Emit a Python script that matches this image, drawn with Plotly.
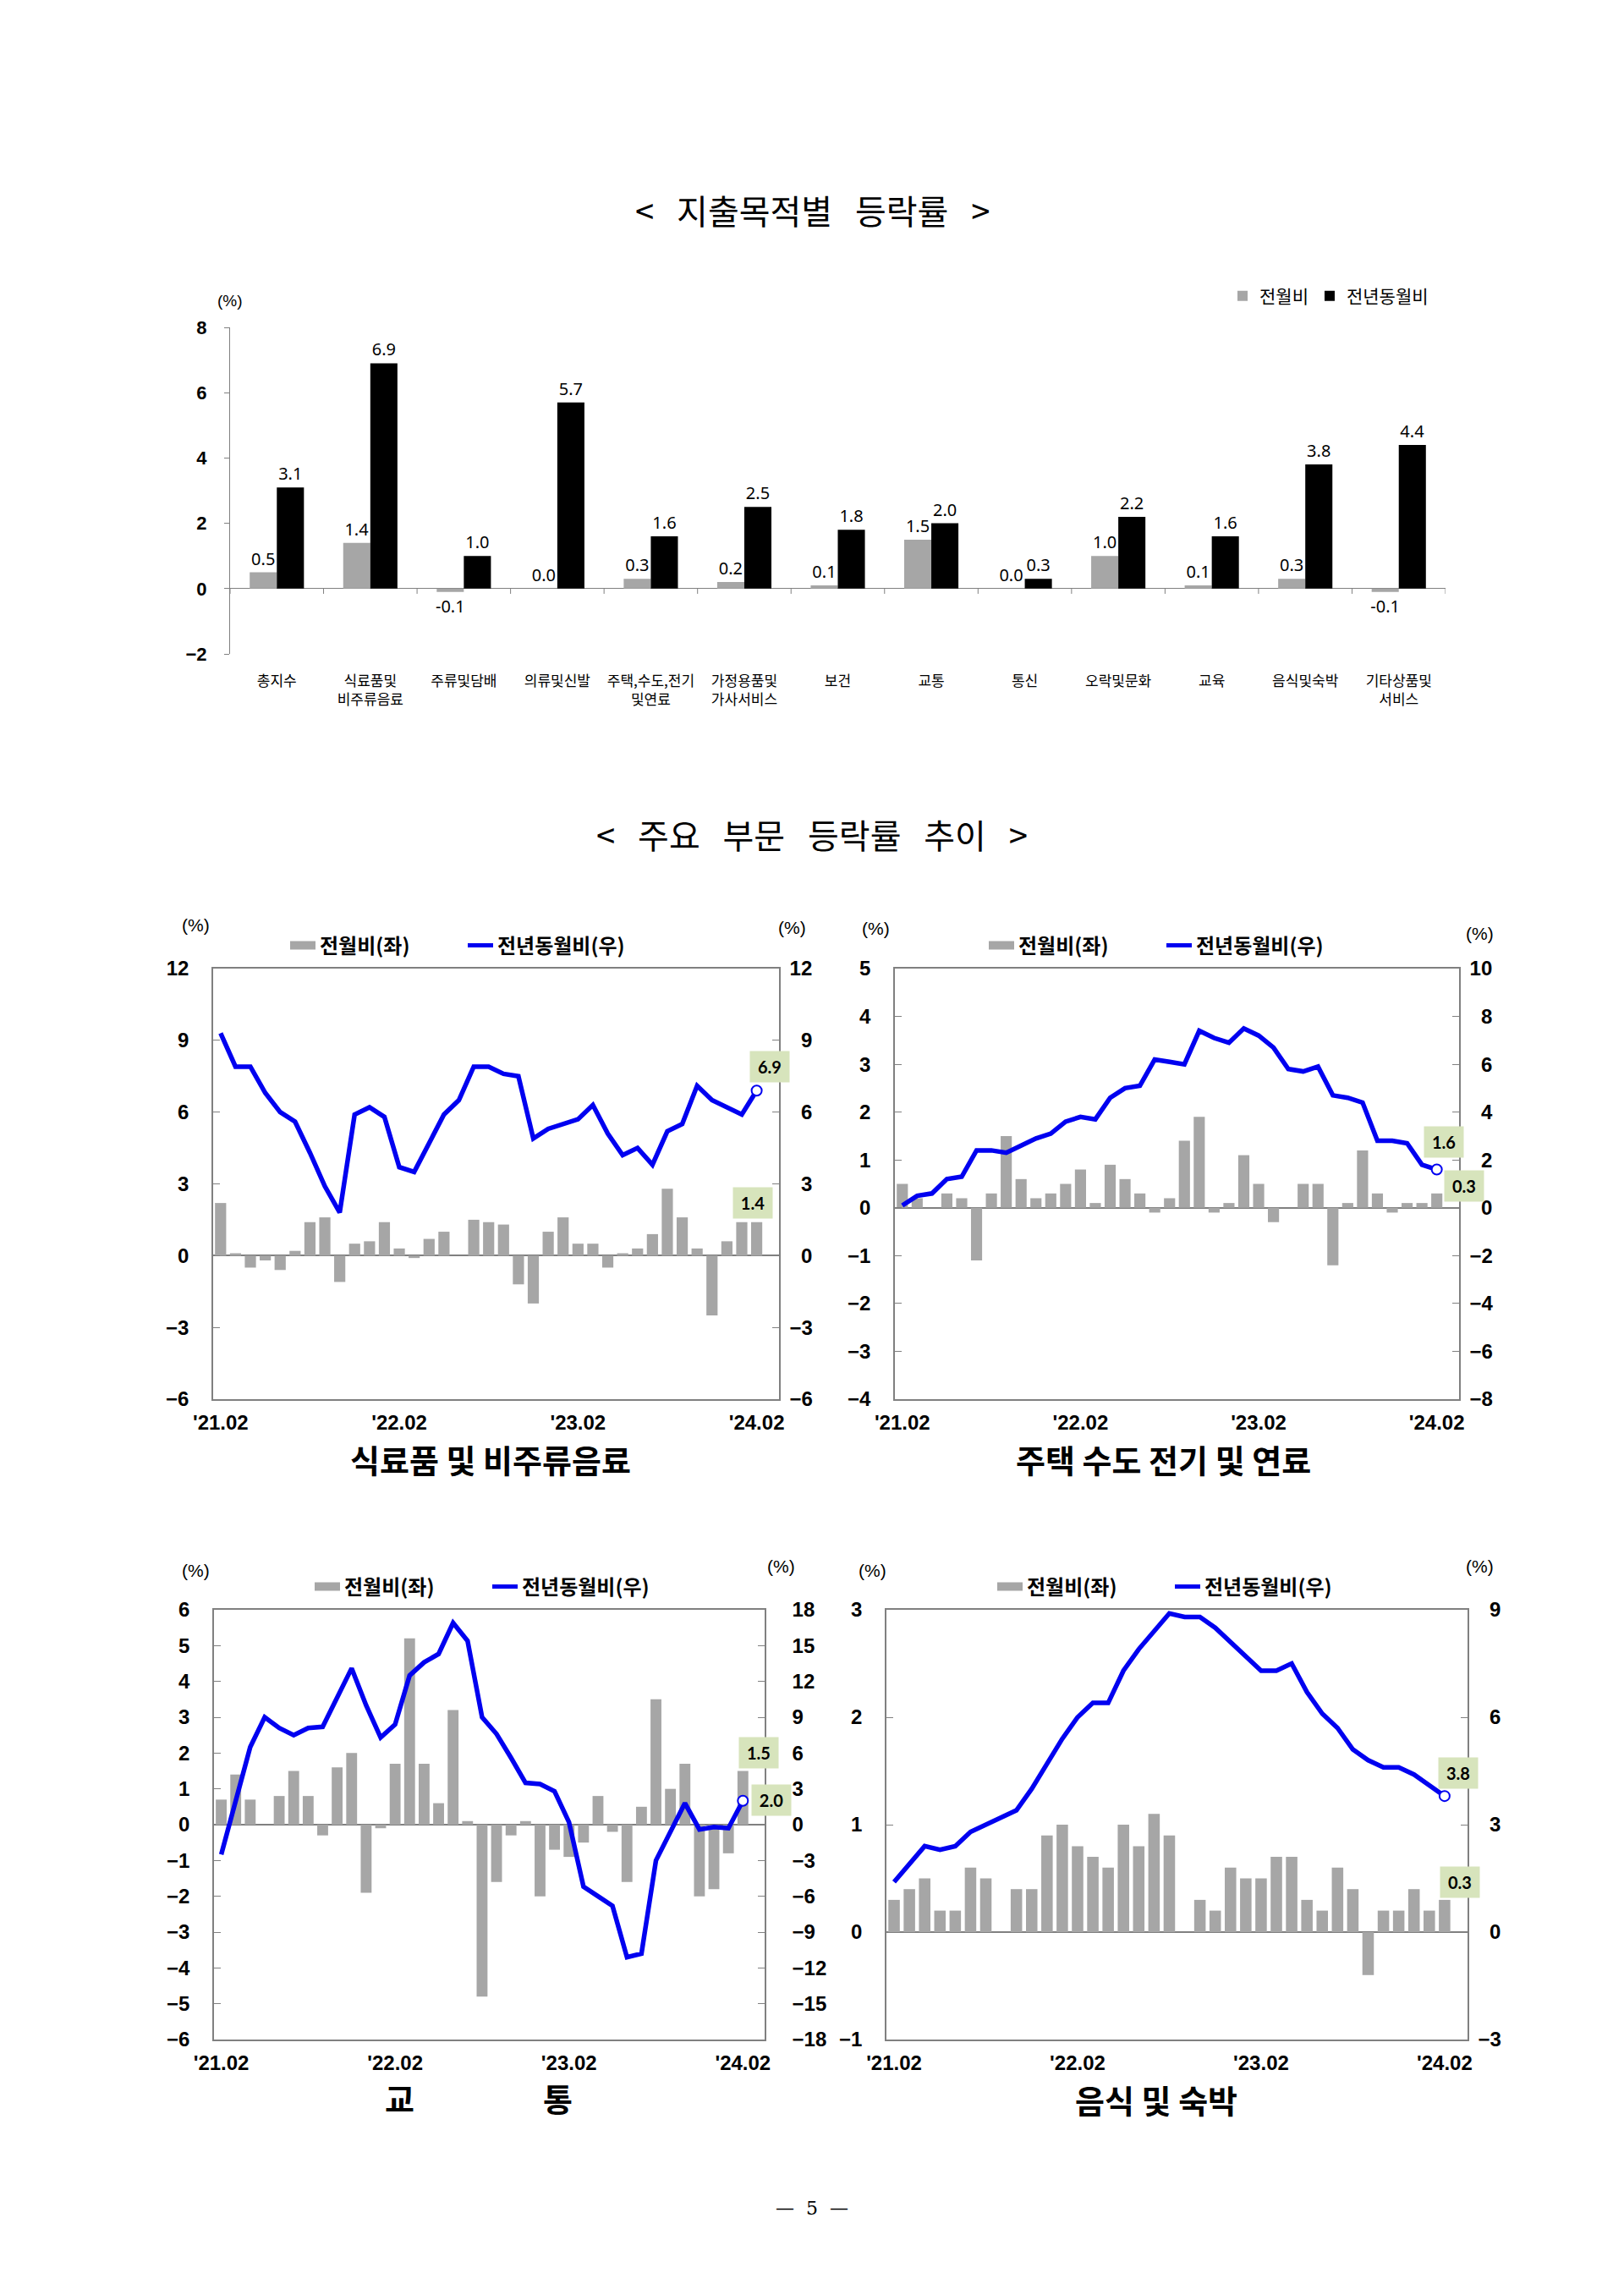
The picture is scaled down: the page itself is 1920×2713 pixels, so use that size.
import plotly.graph_objects as go

# ---------------- data ----------------
categories = ["총지수", "식료품및<br>비주류음료", "주류및담배", "의류및신발", "주택,수도,전기<br>및연료",
              "가정용품및<br>가사서비스", "보건", "교통", "통신", "오락및문화", "교육", "음식및숙박",
              "기타상품및<br>서비스"]
cat_mom = [0.5, 1.4, -0.1, 0.0, 0.3, 0.2, 0.1, 1.5, 0.0, 1.0, 0.1, 0.3, -0.1]
cat_yoy = [3.1, 6.9, 1.0, 5.7, 1.6, 2.5, 1.8, 2.0, 0.3, 2.2, 1.6, 3.8, 4.4]

months = []
for yy in range(21, 25):
    for mm in range(1, 13):
        if (yy == 21 and mm < 2) or (yy == 24 and mm > 2):
            continue
        months.append(f"'{yy}.{mm:02d}")
month_ticks = ["'21.02", "'22.02", "'23.02", "'24.02"]

food_mom = [2.2, 0.1, -0.5, -0.2, -0.6, 0.2, 1.4, 1.6, -1.1, 0.5, 0.6, 1.4, 0.3, -0.1, 0.7, 1.0, 0.0, 1.5, 1.4,
            1.3, -1.2, -2.0, 1.0, 1.6, 0.5, 0.5, -0.5, 0.1, 0.3, 0.9, 2.8, 1.6, 0.3, -2.5, 0.6, 1.4, 1.4]
food_yoy = [9.3, 7.9, 7.9, 6.8, 6.0, 5.6, 4.3, 2.9, 1.8, 5.9, 6.2, 5.8, 3.7, 3.5, 4.7, 5.9, 6.5, 7.9, 7.9,
            7.6, 7.5, 4.9, 5.3, 5.5, 5.7, 6.3, 5.1, 4.2, 4.5, 3.8, 5.2, 5.5, 7.1, 6.5, 6.2, 5.9, 6.9]

house_mom = [0.5, 0.2, 0.0, 0.3, 0.2, -1.1, 0.3, 1.5, 0.6, 0.2, 0.3, 0.5, 0.8, 0.1, 0.9, 0.6, 0.3, -0.1, 0.2,
             1.4, 1.9, -0.1, 0.1, 1.1, 0.5, -0.3, 0.0, 0.5, 0.5, -1.2, 0.1, 1.2, 0.3, -0.1, 0.1, 0.1, 0.3]
house_yoy = [0.1, 0.5, 0.6, 1.2, 1.3, 2.4, 2.4, 2.3, 2.6, 2.9, 3.1, 3.6, 3.8, 3.7, 4.6, 5.0, 5.1, 6.2, 6.1,
             6.0, 7.4, 7.1, 6.9, 7.5, 7.2, 6.7, 5.8, 5.7, 5.9, 4.7, 4.6, 4.4, 2.8, 2.8, 2.7, 1.8, 1.6]

trans_mom = [0.7, 1.4, 0.7, 0.0, 0.8, 1.5, 0.8, -0.3, 1.6, 2.0, -1.9, -0.1, 1.7, 5.2, 1.7, 0.6, 3.2, 0.1, -4.8,
             -1.6, -0.3, 0.1, -2.0, -0.7, -0.9, -0.5, 0.8, -0.2, -1.6, 0.5, 3.5, 1.0, 1.7, -2.0, -1.8, -0.8, 1.5]
trans_yoy = [-2.5, 2.0, 6.5, 9.0, 8.1, 7.5, 8.1, 8.2, 10.7, 13.1, 10.0, 7.3, 8.4, 12.5, 13.6, 14.3, 16.9, 15.4,
             9.0, 7.6, 5.6, 3.5, 3.4, 2.8, 0.2, -5.2, -6.0, -6.8, -11.1, -10.8, -3.0, -0.6, 1.8, -0.4, -0.2,
             -0.3, 2.0]

rest_mom = [0.3, 0.4, 0.5, 0.2, 0.2, 0.6, 0.5, 0.0, 0.4, 0.4, 0.9, 1.0, 0.8, 0.7, 0.6, 1.0, 0.8, 1.1, 0.9,
            0.0, 0.3, 0.2, 0.6, 0.5, 0.5, 0.7, 0.7, 0.3, 0.2, 0.6, 0.4, -0.4, 0.2, 0.2, 0.4, 0.2, 0.3]
rest_yoy = [1.4, 1.9, 2.4, 2.3, 2.4, 2.8, 3.0, 3.2, 3.4, 4.0, 4.7, 5.4, 6.0, 6.4, 6.4, 7.3, 7.9, 8.4, 8.9,
            8.8, 8.8, 8.5, 8.1, 7.7, 7.3, 7.3, 7.5, 6.7, 6.1, 5.7, 5.1, 4.8, 4.6, 4.6, 4.4, 4.1, 3.8]

panel_titles = ["식료품 및 비주류음료", "주택 수도 전기 및 연료", None, "음식 및 숙박"]

# ---------------- style ----------------
W, H = 1920, 2713
GRAY = "#A6A6A6"
BLUE = "#0000F0"
AXC = "#808080"
GREEN = "#D7E4BC"
KR = "Noto Sans CJK KR"
NUM = "Liberation Sans, Arial, sans-serif"
SP = "\u00a0\u00a0\u00a0"


def px(x):
    return x / W


def py(y):
    return 1 - y / H


def right_labels(lo, hi, step, pad):
    vals = list(range(lo, hi + 1, step))
    txt = [("\u2212" if v < 0 else "") + str(abs(v)) for v in vals]
    if pad:
        n = max(len(t) for t in txt)
        txt = ["\u2007" * (n - len(t)) + t for t in txt]
    return vals, txt


fig = go.Figure()

# ---------------- top chart ----------------
fig.add_trace(go.Bar(x=categories, y=cat_mom, name="전월비", marker_color=GRAY, width=0.29, offset=-0.29,
                     text=[f"{v:.1f}" for v in cat_mom], textposition="outside", constraintext="none",
                     textfont=dict(family="Noto Sans", size=20, color="black"), cliponaxis=False,
                     xaxis="x", yaxis="y", legend="legend"))
fig.add_trace(go.Bar(x=categories, y=cat_yoy, name="전년동월비", marker_color="black", width=0.29, offset=0,
                     text=[f"{v:.1f}" for v in cat_yoy], textposition="outside", constraintext="none",
                     textfont=dict(family="Noto Sans", size=20, color="black"), cliponaxis=False,
                     xaxis="x", yaxis="y", legend="legend"))

layout = dict(
    template="none",
    width=W, height=H, margin=dict(l=0, r=0, t=0, b=0, autoexpand=False),
    paper_bgcolor="white", plot_bgcolor="white",
    barmode="overlay", showlegend=True,
    font=dict(family=KR, color="black"),
    xaxis=dict(domain=[px(272), px(1709)], anchor="y", type="category", showline=False, ticks="",
               showgrid=False, automargin=False, tickfont=dict(family=KR, size=17, color="black"),
               ticklabelstandoff=20, range=[-0.5, len(categories) - 0.5]),
    yaxis=dict(domain=[py(773), py(387)], anchor="x", range=[-2, 8], dtick=2, showgrid=False,
               automargin=False,
               showline=True, linecolor=AXC, linewidth=1, ticks="outside", ticklen=6, tickcolor=AXC,
               zeroline=True, zerolinecolor=AXC, zerolinewidth=1.2,
               tickfont=dict(family=NUM, size=22, color="black", weight="bold"), ticklabelstandoff=16),
    legend=dict(orientation="h", x=px(1694), xanchor="right", y=py(350), yanchor="middle",
                font=dict(family=KR, size=21, color="black"), itemwidth=30, bgcolor="rgba(0,0,0,0)",
                traceorder="normal"),
)

shapes = []
for i in range(len(categories) + 1):
    shapes.append(dict(type="line", xref="x", yref="y", x0=i - 0.5, x1=i - 0.5, y0=0, y1=-0.16,
                       line=dict(color=AXC, width=1)))

annotations = [
    dict(text=f"&lt;{SP}지출목적별{SP}등락률{SP}&gt;", x=px(960), y=py(248), xref="paper",
         yref="paper", showarrow=False, font=dict(family=KR, size=40, color="black"), xanchor="center",
         yanchor="middle"),
    dict(text="(%)", x=px(272), y=py(355), xref="paper", yref="paper", showarrow=False,
         font=dict(family=NUM, size=19, color="black"), xanchor="center", yanchor="middle"),
    dict(text=f"&lt;{SP}주요{SP}부문{SP}등락률{SP}추이{SP}&gt;", x=px(960),
         y=py(986), xref="paper", yref="paper", showarrow=False, font=dict(family=KR, size=40, color="black"),
         xanchor="center", yanchor="middle"),
    dict(text="—\u00a0\u00a05\u00a0\u00a0—", x=px(960), y=py(2610), xref="paper", yref="paper",
         showarrow=False, font=dict(family="DejaVu Serif", size=22, color="black"), xanchor="center",
         yanchor="middle"),
]

# ---------------- four panels ----------------
panels = [
    dict(mom=food_mom, yoy=food_yoy, dom_x=(252, 921), dom_y=(1145, 1654), lrange=(-6, 12), ldt=3,
         rrange=(-6, 12), rdt=3, rpad=True, rstand=6, legend_l=(338, 1118), pct_l=(231, 1094),
         pct_r=(936, 1096), title_xy=(580, 1724), line_shift=(15, 28), bar_shift=(-5, 23)),
    dict(mom=house_mom, yoy=house_yoy, dom_x=(1058, 1725), dom_y=(1145, 1654), lrange=(-4, 5), ldt=1,
         rrange=(-8, 10), rdt=2, rpad=True, rstand=6, legend_l=(1164, 1118), pct_l=(1035, 1097),
         pct_r=(1749, 1103), title_xy=(1375, 1724), line_shift=(8, 33), bar_shift=(32, 9)),
    dict(mom=trans_mom, yoy=trans_yoy, dom_x=(253, 904), dom_y=(1903, 2411), lrange=(-6, 6), ldt=1,
         rrange=(-18, 18), rdt=3, rpad=False, rstand=26, legend_l=(367, 1876), pct_l=(231, 1856),
         pct_r=(923, 1852), title_xy=(566, 2479), line_shift=(34, 1), bar_shift=(19, 22)),
    dict(mom=rest_mom, yoy=rest_yoy, dom_x=(1048, 1735), dom_y=(1903, 2411), lrange=(-1, 3), ldt=1,
         rrange=(-3, 9), rdt=3, rpad=True, rstand=6, legend_l=(1174, 1876), pct_l=(1031, 1856),
         pct_r=(1749, 1852), title_xy=(1367, 2481), line_shift=(16, 27), bar_shift=(18, 21)),
]

for k, p in enumerate(panels):
    xn = f"x{k + 2}"
    yl = f"y{2 * k + 2}"
    yr = f"y{2 * k + 3}"
    lg = f"legend{k + 2}"
    fig.add_trace(go.Bar(x=months, y=p["mom"], marker_color=GRAY, width=0.75, showlegend=False,
                         xaxis=xn, yaxis=yl))
    fig.add_trace(go.Scatter(x=months, y=p["yoy"], mode="lines", line=dict(color=BLUE, width=5.5),
                             showlegend=False, xaxis=xn, yaxis=yr))
    fig.add_trace(go.Scatter(x=[months[-1]], y=[p["yoy"][-1]], mode="markers",
                             marker=dict(symbol="circle", size=12, color="white",
                                         line=dict(color=BLUE, width=2)),
                             showlegend=False, xaxis=xn, yaxis=yr, cliponaxis=False))
    # legend-only entries
    fig.add_trace(go.Scatter(x=[None], y=[None], mode="lines", line=dict(color=GRAY, width=11),
                             name="전월비(좌)", legend=lg, xaxis=xn, yaxis=yl))
    fig.add_trace(go.Scatter(x=[None], y=[None], mode="lines", line=dict(color=BLUE, width=5),
                             name="전년동월비(우)", legend=lg, xaxis=xn, yaxis=yr))

    dx = [px(p["dom_x"][0]), px(p["dom_x"][1])]
    dy = [py(p["dom_y"][1]), py(p["dom_y"][0])]
    rv, rt = right_labels(p["rrange"][0], p["rrange"][1], p["rdt"], p["rpad"])
    layout[f"xaxis{k + 2}"] = dict(domain=dx, anchor=yl, type="category", range=[-0.5, 37.5],
                                   tickmode="array", tickvals=month_ticks, ticktext=month_ticks,
                                   ticks="", showgrid=False, showline=True, mirror=True, linecolor=AXC,
                                   linewidth=1.5, ticklabelstandoff=5, automargin=False,
                                   tickfont=dict(family=NUM, size=24, color="black", weight="bold"))
    layout[f"yaxis{2 * k + 2}"] = dict(domain=dy, anchor=xn, range=list(p["lrange"]), dtick=p["ldt"],
                                       showgrid=False, showline=True, linecolor=AXC, linewidth=1.5,
                                       ticks="inside", ticklen=8, tickcolor=AXC, zeroline=True,
                                       zerolinecolor=AXC, zerolinewidth=1.5, ticklabelstandoff=22,
                                       automargin=False,
                                       tickfont=dict(family=NUM, size=24, color="black", weight="bold"))
    layout[f"yaxis{2 * k + 3}"] = dict(overlaying=yl, anchor=xn, side="right", range=list(p["rrange"]),
                                       tickmode="array", tickvals=rv, ticktext=rt,
                                       showgrid=False, showline=True, linecolor=AXC,
                                       linewidth=1.5, ticks="inside", ticklen=8, tickcolor=AXC,
                                       zeroline=False, ticklabelstandoff=p["rstand"], automargin=False,
                                       tickfont=dict(family=NUM, size=24, color="black", weight="bold"))
    layout[lg] = dict(orientation="h", x=px(p["legend_l"][0]), xanchor="left", y=py(p["legend_l"][1]),
                      yanchor="middle", font=dict(family=KR, size=24, color="black", weight="bold"),
                      bgcolor="rgba(0,0,0,0)", itemwidth=30, traceorder="normal",
                      entrywidth=165, entrywidthmode="pixels")

    for pos in (p["pct_l"], p["pct_r"]):
        annotations.append(dict(text="(%)", x=px(pos[0]), y=py(pos[1]), xref="paper", yref="paper",
                                showarrow=False, font=dict(family=NUM, size=21, color="black"),
                                xanchor="center", yanchor="middle"))
    # value boxes
    annotations.append(dict(text=f"{p['yoy'][-1]:.1f}", x=months[-1], y=p["yoy"][-1], xref=xn, yref=yr,
                            showarrow=False, xshift=p["line_shift"][0], yshift=p["line_shift"][1],
                            bgcolor=GREEN, width=44, height=34,
                            font=dict(family="Lato, Noto Sans", size=20, color="black", weight="bold")))
    annotations.append(dict(text=f"{p['mom'][-1]:.1f}", x=months[-1], y=p["mom"][-1], xref=xn, yref=yl,
                            showarrow=False, xshift=p["bar_shift"][0], yshift=p["bar_shift"][1],
                            bgcolor=GREEN, width=44, height=34,
                            font=dict(family="Lato, Noto Sans", size=20, color="black", weight="bold")))
    # titles
    tx, ty = p["title_xy"]
    if panel_titles[k] is not None:
        annotations.append(dict(text=panel_titles[k], x=px(tx), y=py(ty), xref="paper", yref="paper",
                                showarrow=False, font=dict(family=KR, size=38, color="black", weight="bold"),
                                xanchor="center", yanchor="middle"))
    else:
        for ch, cx in (("교", 472), ("통", 659)):
            annotations.append(dict(text=ch, x=px(cx), y=py(ty), xref="paper", yref="paper",
                                    showarrow=False,
                                    font=dict(family=KR, size=38, color="black", weight="bold"),
                                    xanchor="center", yanchor="middle"))

layout["shapes"] = shapes
layout["annotations"] = annotations
fig.update_layout(**layout)

fig.write_html("out.html", post_script="document.body.style.margin='0px';",
               config={"displayModeBar": False})
